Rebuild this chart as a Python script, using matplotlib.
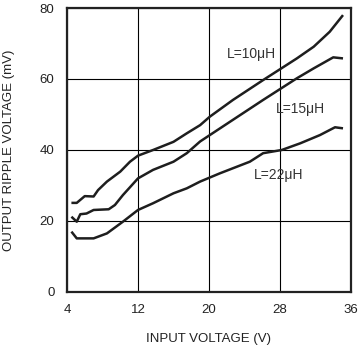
import matplotlib
matplotlib.use('Agg')
import matplotlib.pyplot as plt

plt.rcParams['font.family'] = ['Liberation Sans', 'DejaVu Sans']

# input voltage (V) and ripple (mV)
vin_10 = [4.5, 5.1, 6.0, 7.0, 7.5, 8.5, 10.0, 11.1, 12.0, 13.7, 16.0, 17.5, 19.0,
          20.1, 22.7, 26.1, 29.9, 31.8, 33.6, 35.1]
rip_10 = [25.1, 25.1, 27.0, 26.9, 28.7, 31.1, 33.9, 36.7, 38.4, 40.0, 42.3, 44.7, 47.0,
          49.4, 54.1, 59.7, 65.8, 69.1, 73.3, 78.0]

vin_15 = [4.5, 5.1, 5.5, 6.2, 7.0, 8.7, 9.4, 10.3, 12.0, 13.7, 16.0, 17.5, 19.0,
          22.7, 26.1, 29.9, 31.8, 34.0, 35.1]
rip_15 = [21.2, 19.8, 21.9, 22.1, 23.1, 23.3, 24.5, 27.3, 32.0, 34.4, 36.7, 39.1, 42.4,
          48.5, 54.1, 60.2, 63.0, 66.1, 65.8]

vin_22 = [4.5, 5.1, 7.0, 8.5, 10.3, 12.0, 13.7, 16.0, 17.5, 19.0, 21.2, 24.6, 26.1,
          28.2, 30.3, 32.5, 34.2, 35.1]
rip_22 = [17.0, 15.1, 15.1, 16.5, 19.8, 23.1, 25.0, 27.8, 29.2, 31.1, 33.4, 36.7, 39.1,
          40.0, 41.9, 44.2, 46.4, 46.1]

labels = ['L=10\u03bcH', 'L=15\u03bcH', 'L=22\u03bcH']
label_pos = [(24.8, 67.0), (30.3, 51.5), (27.9, 33.0)]

xticks = [4, 12, 20, 28, 36]
yticks = [0, 20, 40, 60, 80]

fig = plt.figure(figsize=(3.59, 3.48), dpi=100)
ax = fig.add_axes([0.1866, 0.161, 0.7911, 0.816])

for x, y in [(vin_10, rip_10), (vin_15, rip_15), (vin_22, rip_22)]:
    ax.plot(x, y, color='#1e1e1e', lw=1.8, solid_capstyle='butt',
            solid_joinstyle='round', zorder=3)

for txt, (tx, ty) in zip(labels, label_pos):
    ax.text(tx, ty, txt, fontsize=10, color='#333333', ha='center', va='center',
            zorder=4)

ax.set_xlim(4, 36)
ax.set_ylim(0, 80)
ax.set_xticks(xticks)
ax.set_yticks(yticks)
ax.tick_params(length=0, labelsize=9.5, colors='#222222')
ax.tick_params(axis='x', pad=9)
ax.tick_params(axis='y', pad=9)
ax.grid(True, color='black', lw=0.8)
ax.set_axisbelow(True)
for s in ax.spines.values():
    s.set_linewidth(1.6)
    s.set_color('#222222')

ax.set_xlabel('INPUT VOLTAGE (V)', fontsize=9.5, color='#222222', labelpad=12)
ax.set_ylabel('OUTPUT RIPPLE VOLTAGE (mV)', fontsize=9.5, color='#222222', labelpad=18)

fig.savefig('out.png', dpi=100)
